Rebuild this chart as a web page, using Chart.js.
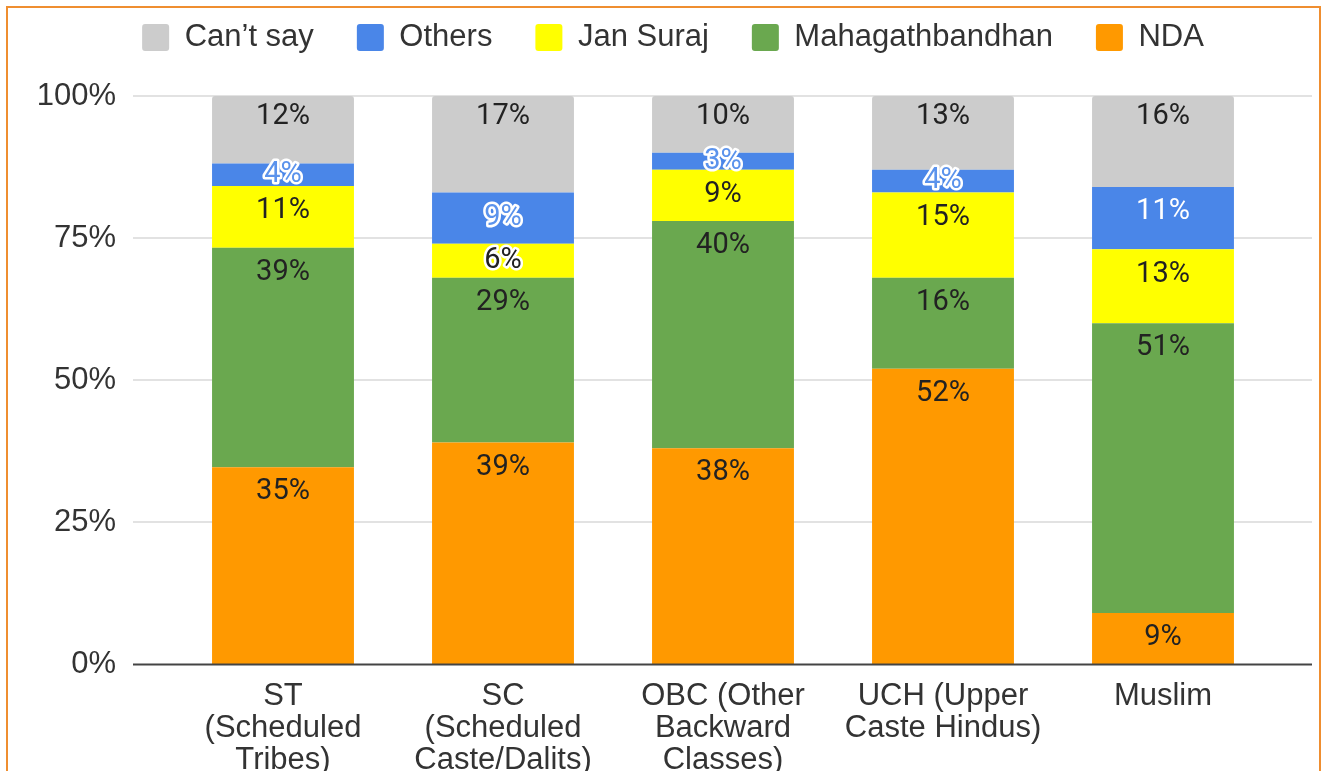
<!DOCTYPE html>
<html>
<head>
<meta charset="utf-8">
<script src="https://cdn.jsdelivr.net/npm/chart.js@4.4.1/dist/chart.umd.min.js"></script>
<style>
html, body { margin: 0; padding: 0; background: #fff; }
#wrap { position: relative; width: 1323px; height: 771px; overflow: hidden; }
#frame { position: absolute; left: 6px; top: 6px; width: 1315px; height: 820px; border: 2px solid #ef8e30; box-sizing: border-box; }
canvas { position: absolute; left: 0; top: 0; }
</style>
</head>
<body>
<div id="wrap">
  <div id="frame"></div>
  <canvas id="chart" width="1323" height="771"></canvas>
</div>
<script>
var categories = [
    ["ST", "(Scheduled", "Tribes)"],
    ["SC", "(Scheduled", "Caste/Dalits)"],
    ["OBC (Other", "Backward", "Classes)"],
    ["UCH (Upper", "Caste Hindus)"],
    ["Muslim"]
];
var nda = [35, 39, 38, 52, 9];
var mahagathbandhan = [39, 29, 40, 16, 51];
var janSuraj = [11, 6, 9, 15, 13];
var others = [4, 9, 3, 4, 11];
var cantSay = [12, 17, 10, 13, 16];
var yTicks = [0, 25, 50, 75, 100];

// bars are drawn as share of each column (ST rounds to 101)
var totals = categories.map(function (c, i) {
    return nda[i] + mahagathbandhan[i] + janSuraj[i] + others[i] + cantSay[i];
});
function share(arr) {
    return arr.map(function (v, i) { return v / totals[i] * 100; });
}

var series = [
    { label: "NDA", values: nda, color: "#ff9900" },
    { label: "Mahagathbandhan", values: mahagathbandhan, color: "#6aa84f" },
    { label: "Jan Suraj", values: janSuraj, color: "#ffff00" },
    { label: "Others", values: others, color: "#4a86e8" },
    { label: "Can\u2019t say", values: cantSay, color: "#cccccc" }
];

var textFont = "'Liberation Sans', Arial, sans-serif";

// legend: fixed height, and centred over the bars rather than the canvas
var legendBox = {
    id: "legendBox",
    beforeInit: function (chart) {
        var fit = chart.legend.fit;
        chart.legend.fit = function () {
            fit.bind(chart.legend)();
            this.height = 117;
        };
    },
    afterLayout: function (chart) {
        var lg = chart.legend;
        lg.left = 2 * 673 - lg.right;
    }
};

var gridLines = {
    id: "gridLines",
    beforeDatasetsDraw: function (chart) {
        var ctx = chart.ctx, area = chart.chartArea, y = chart.scales.y;
        ctx.save();
        ctx.strokeStyle = "#e2e2e2";
        ctx.lineWidth = 2;
        yTicks.forEach(function (v) {
            if (v === 0) return;
            var py = Math.round(y.getPixelForValue(v));
            ctx.beginPath();
            ctx.moveTo(area.left - 40, py);
            ctx.lineTo(area.right + 39, py);
            ctx.stroke();
        });
        ctx.restore();
    },
    afterDatasetsDraw: function (chart) {
        var ctx = chart.ctx, area = chart.chartArea, y = chart.scales.y;
        var py = Math.round(y.getPixelForValue(0)) + 0.5;
        ctx.save();
        ctx.strokeStyle = "#444";
        ctx.lineWidth = 2;
        ctx.beginPath();
        ctx.moveTo(area.left - 40, py);
        ctx.lineTo(area.right + 39, py);
        ctx.stroke();
        ctx.restore();
    }
};

var barLabels = {
    id: "barLabels",
    afterDatasetsDraw: function (chart) {
        var ctx = chart.ctx;
        ctx.save();
        ctx.font = "29px Roboto, sans-serif";
        ctx.textAlign = "center";
        ctx.textBaseline = "middle";
        ctx.lineJoin = "round";
        chart.data.datasets.forEach(function (ds, di) {
            var meta = chart.getDatasetMeta(di);
            meta.data.forEach(function (bar, i) {
                var p = bar.getProps(["x", "y", "base"], true);
                var top = Math.min(p.y, p.base);
                var h = Math.abs(p.base - p.y);
                var off = di === series.length - 1 ? 21 : 25;
                var cy = top + Math.min(h / 2, off);
                var text = series[di].values[i] + "%";
                var isBlue = series[di].label === "Others";
                var halo = h < 40 || (isBlue && h < 58);
                var fill = "#222";
                if (isBlue) fill = halo ? "#5b93ec" : "#ffffff";
                if (halo) {
                    ctx.strokeStyle = "#ffffff";
                    ctx.lineWidth = 5;
                    ctx.strokeText(text, p.x, cy);
                }
                ctx.fillStyle = fill;
                ctx.fillText(text, p.x, cy);
            });
        });
        ctx.restore();
    }
};

new Chart(document.getElementById("chart"), {
    type: "bar",
    data: {
        labels: categories,
        datasets: series.map(function (s, i) {
            return {
                label: s.label,
                data: share(s.values),
                backgroundColor: s.color,
                borderWidth: 0,
                borderRadius: i === series.length - 1 ? 3 : 0,
                borderSkipped: "bottom",
                categoryPercentage: 1,
                barPercentage: 0.645
            };
        })
    },
    options: {
        responsive: false,
        animation: false,
        devicePixelRatio: 1,
        layout: { padding: { top: -21, left: 20, right: 50, bottom: 0 } },
        plugins: {
            legend: {
                position: "top",
                reverse: true,
                labels: {
                    boxWidth: 27,
                    boxHeight: 27,
                    padding: 43,
                    useBorderRadius: true,
                    borderRadius: 3,
                    color: "#333333",
                    font: { family: textFont, size: 31 }
                }
            },
            tooltip: { enabled: false }
        },
        scales: {
            x: {
                stacked: true,
                afterFit: function (s) { s.height = 107; },
                grid: { display: false, drawTicks: false },
                border: { display: false },
                ticks: {
                    padding: 17,
                    color: "#333333",
                    maxRotation: 0,
                    autoSkip: false,
                    font: { family: textFont, size: 31, lineHeight: 1.02 }
                }
            },
            y: {
                stacked: true,
                min: 0,
                max: 100,
                afterFit: function (s) { s.width = 153; },
                afterBuildTicks: function (s) {
                    s.ticks = yTicks.map(function (v) { return { value: v }; });
                },
                grid: { display: false, drawTicks: false },
                border: { display: false },
                ticks: {
                    padding: 57,
                    color: "#333333",
                    font: { family: textFont, size: 31 },
                    callback: function (v) { return v + "%"; }
                }
            }
        }
    },
    plugins: [legendBox, gridLines, barLabels]
});
</script>
</body>
</html>
